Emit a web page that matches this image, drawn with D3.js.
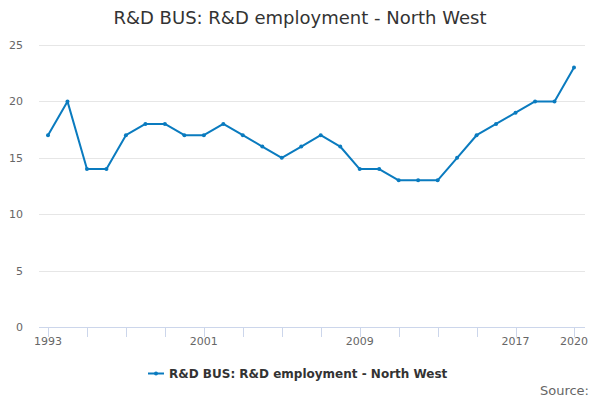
<!DOCTYPE html>
<html><head><meta charset="utf-8">
<script src="https://cdn.jsdelivr.net/npm/d3@7"></script>
<style>body{margin:0;background:#fff;font-family:"DejaVu Sans",sans-serif;}</style>
</head><body>
<svg id="c" width="600" height="400"></svg>
<script>
const years = [1993,1994,1995,1996,1997,1998,1999,2000,2001,2002,2003,2004,2005,2006,2007,2008,2009,2010,2011,2012,2013,2014,2015,2016,2017,2018,2019,2020];
const values = [17,20,14,14,17,18,18,17,17,18,17,16,15,16,17,16,14,14,13,13,13,15,17,18,19,20,20,23];
const yTicks = [0,5,10,15,20,25];
const xTicks = [1993,1995,1997,1999,2001,2003,2005,2007,2009,2011,2013,2015,2017,2020];
const xLabels = [1993,2001,2009,2017,2020];
const title = "R&D BUS: R&D employment - North West";
const seriesName = "R&D BUS: R&D employment - North West";
const color = "#0a7bbf";

(function(){
const svg = d3.select("#c");
const pL = 39, pR = 585, pT = 45, pB = 327;
const x = d3.scaleLinear().domain([1993,2020]).range([48,574]);
const y = d3.scaleLinear().domain([0,25]).range([pB, pT]);

svg.append("text").attr("x",300).attr("y",24).attr("text-anchor","middle")
  .attr("font-size",18).attr("fill","#333").text(title);

svg.append("g").selectAll("line").data(yTicks.filter(d=>d>0)).join("line")
  .attr("x1",pL).attr("x2",pR).attr("y1",d=>Math.round(y(d))+0.5).attr("y2",d=>Math.round(y(d))+0.5)
  .attr("stroke","#e6e6e6");
svg.append("g").selectAll("text").data(yTicks).join("text")
  .attr("x",23).attr("y",d=>y(d)+4).attr("text-anchor","end")
  .attr("font-size",11).attr("fill","#666").text(d=>d);

svg.append("line").attr("x1",pL).attr("x2",pR).attr("y1",pB+0.5).attr("y2",pB+0.5)
  .attr("stroke","#ccd6eb");
svg.append("g").selectAll("line").data(xTicks).join("line")
  .attr("x1",d=>Math.round(x(d))+0.5).attr("x2",d=>Math.round(x(d))+0.5)
  .attr("y1",pB).attr("y2",pB+10).attr("stroke","#ccd6eb");
svg.append("g").selectAll("text").data(xLabels).join("text")
  .attr("x",d=>x(d)).attr("y",345).attr("text-anchor","middle")
  .attr("font-size",11).attr("fill","#666").text(d=>d);

const line = d3.line().x((d,i)=>x(years[i])).y(d=>y(d));
svg.append("path").datum(values).attr("d",line).attr("fill","none")
  .attr("stroke",color).attr("stroke-width",2).attr("stroke-linejoin","round");
svg.append("g").selectAll("circle").data(values).join("circle")
  .attr("cx",(d,i)=>x(years[i])).attr("cy",d=>y(d)).attr("r",2).attr("fill",color);

const lg = svg.append("g");
lg.append("text").attr("x",169).attr("y",378).attr("font-size",12)
  .attr("font-weight","bold").attr("fill","#333").text(seriesName);
lg.append("line").attr("x1",148).attr("x2",164).attr("y1",373.5).attr("y2",373.5)
  .attr("stroke",color).attr("stroke-width",2);
lg.append("circle").attr("cx",156).attr("cy",373.5).attr("r",2).attr("fill",color);

svg.append("text").attr("x",589).attr("y",395).attr("text-anchor","end")
  .attr("font-size",13).attr("fill","#666").text("Source:");
})();
</script>
</body></html>
